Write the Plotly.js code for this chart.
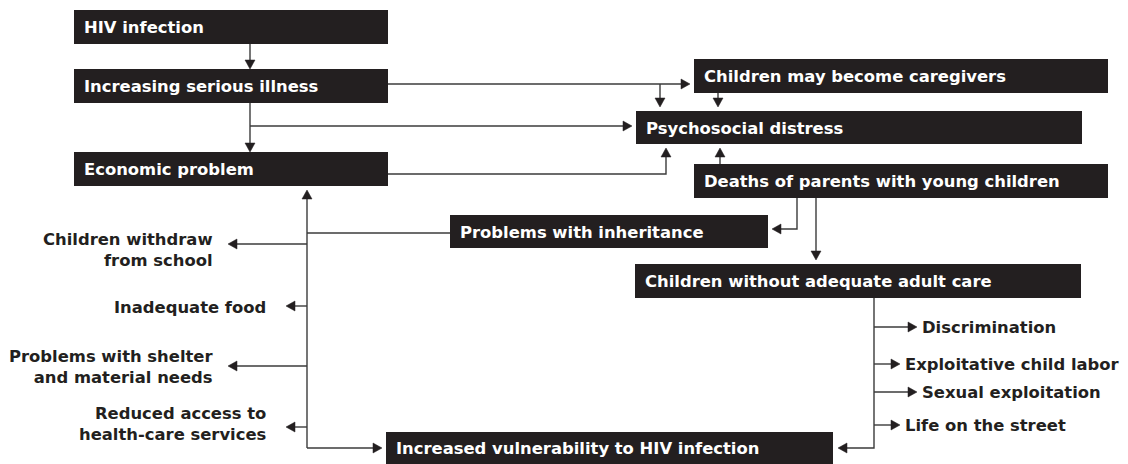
<!DOCTYPE html>
<html>
<head>
<meta charset="utf-8">
<script src="https://cdn.plot.ly/plotly-3.0.1.min.js"></script>
<style>html,body{margin:0;padding:0;background:#fff;}#chart{width:1128px;height:464px;}</style>
</head>
<body>
<div id="chart"></div>
<script>
// ---- content (text) ----
const boxLabels = [
  "HIV infection",
  "Increasing serious illness",
  "Economic problem",
  "Children may become caregivers",
  "Psychosocial distress",
  "Deaths of parents with young children",
  "Problems with inheritance",
  "Children without adequate adult care",
  "Increased vulnerability to HIV infection"
];
const economicEffects = [
  "Children withdraw<br>from school",
  "Inadequate food",
  "Problems with shelter<br>and material needs",
  "Reduced access to<br>health-care services"
];
const careEffects = [
  "Discrimination",
  "Exploitative child labor",
  "Sexual exploitation",
  "Life on the street"
];

// ---- layout geometry (pixel space) ----
const boxGeom = [
  [74, 388, 10, 44],
  [74, 388, 69, 103],
  [74, 388, 152, 186],
  [694, 1108, 59, 93],
  [636, 1082, 111, 144],
  [694, 1108, 164, 198],
  [450, 768, 215, 248],
  [635, 1081, 264, 298],
  [386, 833, 432, 466]
];
const econGeom = [ // [arrowY, tipX, textRightX, textY]
  [244, 228, 215, 250],
  [306, 286, 268, 307],
  [366, 228, 215, 367],
  [427, 286, 268, 424]
];
const careGeom = [ // [arrowY, tipX]
  [327, 917],
  [364, 900],
  [392, 917],
  [425, 900]
];
// connectors: polyline, arrowhead at last point (if arrow true)
const connectors = [
  {p: [[250,44],[250,69]], a: true},
  {p: [[250,103],[250,152]], a: true},
  {p: [[250,126],[632,126]], a: true},
  {p: [[388,84],[690,84]], a: true},
  {p: [[660,84],[660,107]], a: true},
  {p: [[718,93],[718,107]], a: true},
  {p: [[388,174],[666,174],[666,148]], a: true},
  {p: [[720,164],[720,148]], a: true},
  {p: [[797,198],[797,229],[772,229]], a: true},
  {p: [[816,198],[816,260]], a: true},
  {p: [[307,448],[307,190]], a: true},
  {p: [[307,233],[450,233]], a: false},
  {p: [[307,448],[382,448]], a: true},
  {p: [[874,298],[874,448],[838,448]], a: true}
];
econGeom.forEach(g => connectors.push({p: [[307, g[0]], [g[1], g[0]]], a: true}));
careGeom.forEach(g => connectors.push({p: [[874, g[0]], [g[1], g[0]]], a: true}));

const INK = "#231f20";
const LINE = "#3b3b3b";
const FONT = "DejaVu Sans";
const FS = 16.4;

const shapes = [];
const annotations = [];

function arrowHead(tip, prev) {
  const L = 9, W = 5;
  const dx = tip[0] - prev[0], dy = tip[1] - prev[1];
  const len = Math.hypot(dx, dy) || 1;
  const ux = dx / len, uy = dy / len;
  const bx = tip[0] - ux * L, by = tip[1] - uy * L;
  const px = -uy, py = ux;
  return `M${tip[0]},${tip[1]} L${bx + px * W},${by + py * W} L${bx - px * W},${by - py * W} Z`;
}

connectors.forEach(c => {
  const pts = c.p.slice();
  let linePts = pts;
  if (c.a) {
    const tip = pts[pts.length - 1], prev = pts[pts.length - 2];
    const dx = tip[0] - prev[0], dy = tip[1] - prev[1];
    const len = Math.hypot(dx, dy);
    const end = [tip[0] - dx / len * 6, tip[1] - dy / len * 6];
    linePts = pts.slice(0, -1).concat([end]);
  }
  const d = linePts.map((q, i) => (i ? "L" : "M") + q[0] + "," + q[1]).join(" ");
  shapes.push({type: "path", xref: "x", yref: "y", path: d, line: {color: LINE, width: 1.4}});
  if (c.a) {
    shapes.push({type: "path", xref: "x", yref: "y",
      path: arrowHead(pts[pts.length - 1], pts[pts.length - 2]),
      fillcolor: INK, line: {color: INK, width: 0.5}});
  }
});

boxLabels.forEach((lab, i) => {
  const g = boxGeom[i];
  shapes.push({type: "rect", xref: "x", yref: "y", x0: g[0], x1: g[1], y0: g[2], y1: g[3],
    fillcolor: INK, line: {width: 0}});
  annotations.push({x: g[0] + 8, y: (g[2] + Math.min(g[3], 464)) / 2 + 0.5, xref: "x", yref: "y",
    text: "<b>" + lab + "</b>", showarrow: false, xanchor: "left", yanchor: "middle",
    font: {family: FONT, size: FS, color: "#ffffff"}});
});

economicEffects.forEach((lab, i) => {
  const g = econGeom[i];
  annotations.push({x: g[2], y: g[3], xref: "x", yref: "y", text: "<b>" + lab + "</b>",
    showarrow: false, xanchor: "right", yanchor: "middle", align: "right",
    font: {family: FONT, size: FS, color: INK}});
});

careEffects.forEach((lab, i) => {
  const g = careGeom[i];
  annotations.push({x: g[1] + 3, y: g[0], xref: "x", yref: "y", text: "<b>" + lab + "</b>",
    showarrow: false, xanchor: "left", yanchor: "middle",
    font: {family: FONT, size: FS, color: INK}});
});

const layout = {
  width: 1128, height: 464,
  margin: {l: 0, r: 0, t: 0, b: 0, pad: 0},
  paper_bgcolor: "#ffffff", plot_bgcolor: "#ffffff",
  xaxis: {range: [0, 1128], visible: false, fixedrange: true},
  yaxis: {range: [464, 0], visible: false, fixedrange: true},
  showlegend: false,
  shapes: shapes,
  annotations: annotations
};

Plotly.newPlot("chart", [], layout, {staticPlot: true, displayModeBar: false});
</script>
</body>
</html>
